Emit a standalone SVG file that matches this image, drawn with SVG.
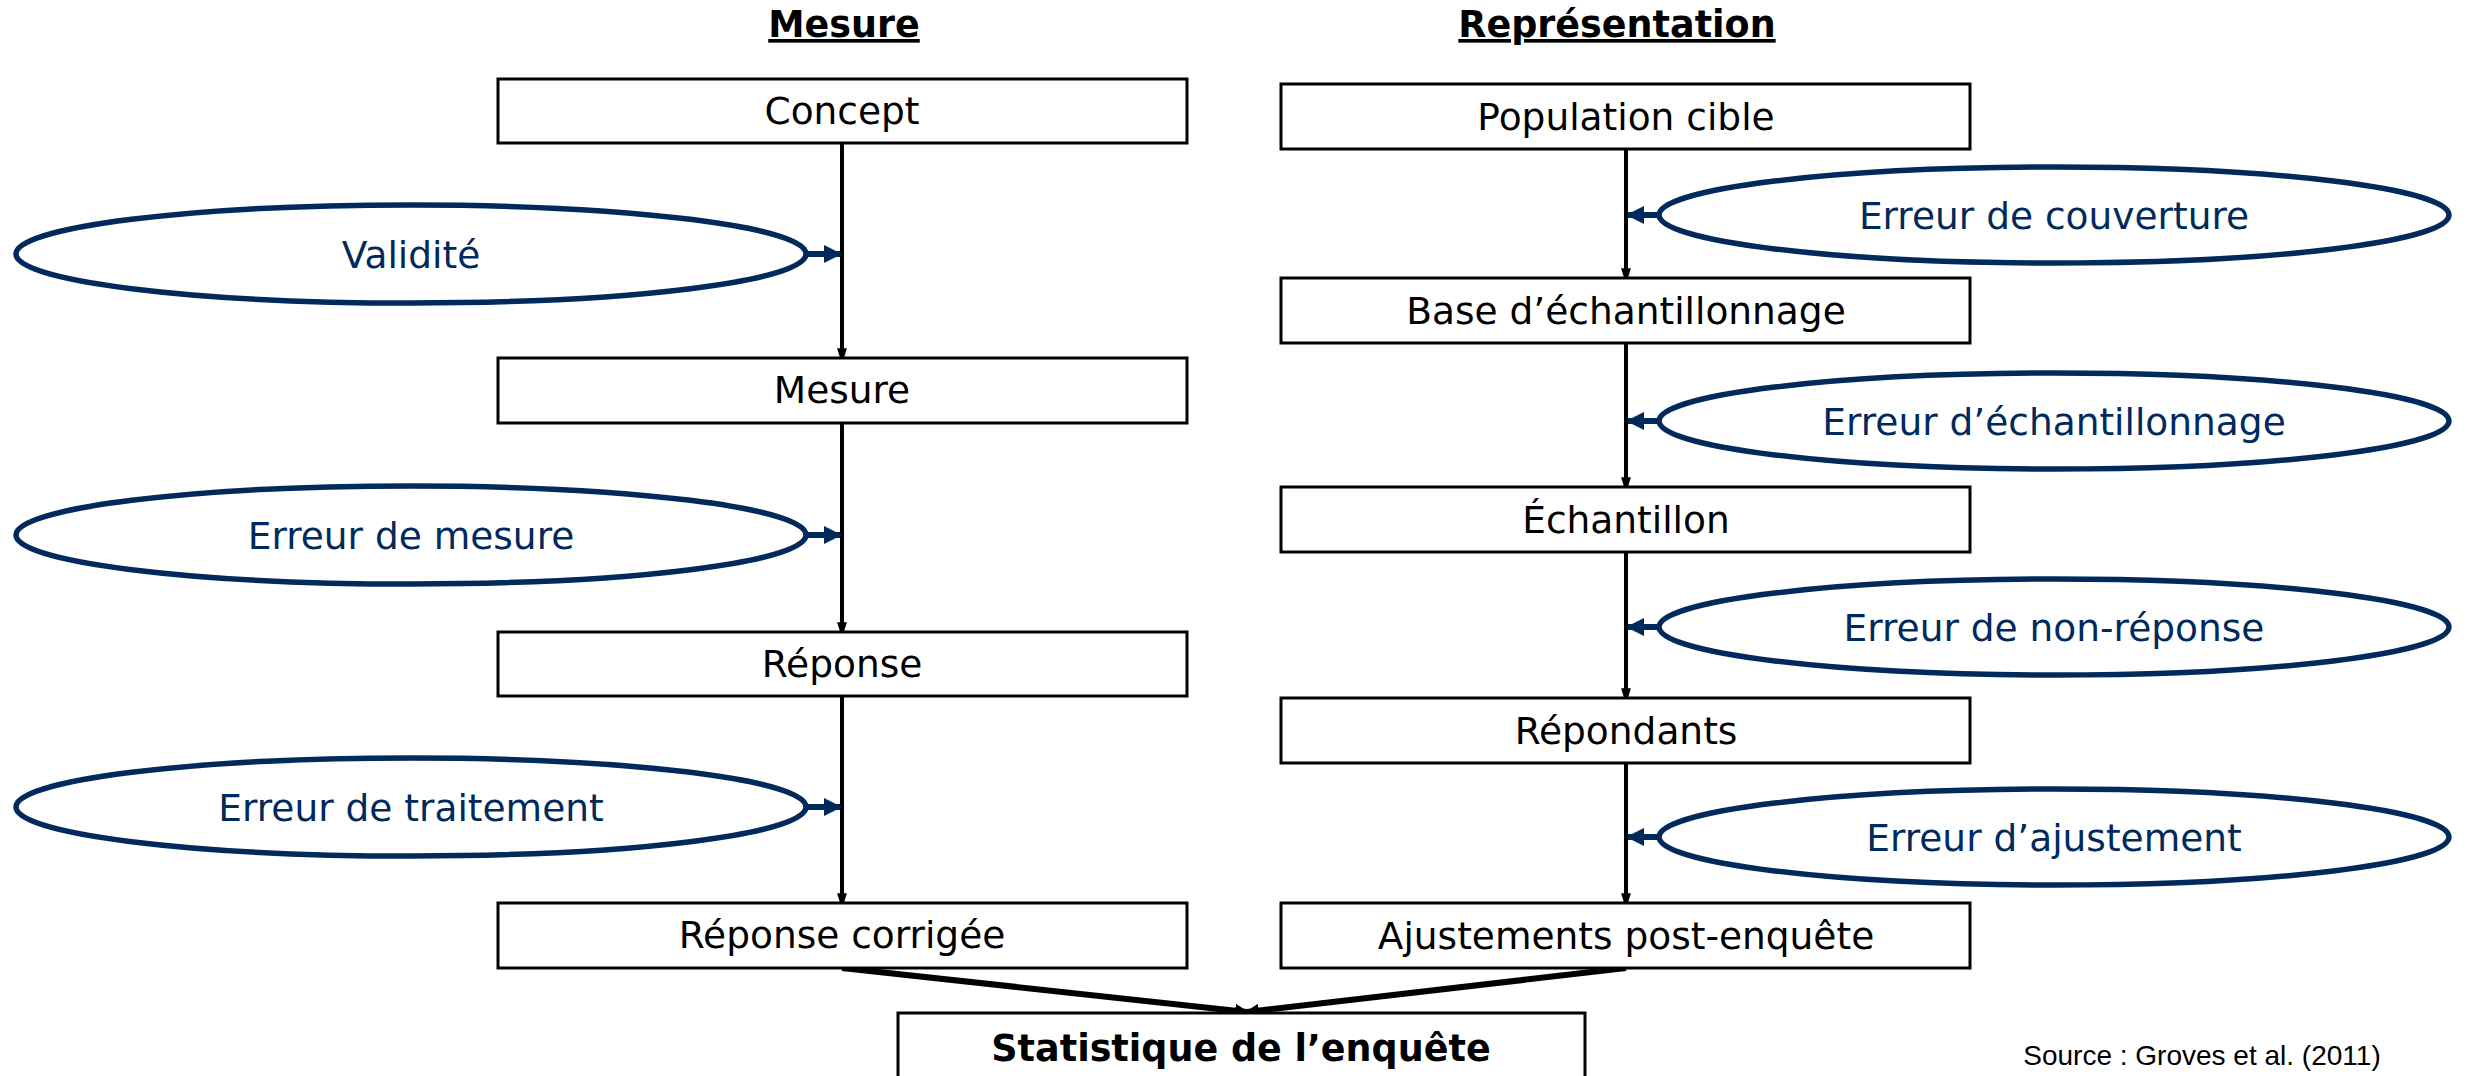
<svg xmlns="http://www.w3.org/2000/svg" width="2471" height="1076" viewBox="0 0 2471 1076">
<style>
text{font-family:"DejaVu Sans",Verdana,sans-serif;font-size:37.5px;text-anchor:middle}
.title{font-weight:bold;text-decoration:underline;font-size:36.5px}
.box{fill:#fff;stroke:#000;stroke-width:3}
.lbl{fill:#000}
.ell{fill:#fff;stroke:#002a5c;stroke-width:5.5}
.etxt{fill:#002a5c}
.flow{stroke:#000;stroke-width:4;fill:none}
.err{stroke:#002a5c;stroke-width:6;fill:none}
.merge{stroke:#000;stroke-width:6;fill:none}
.stat{font-weight:bold;font-size:36.5px}
.src{font-family:"Liberation Sans",Arial,sans-serif;font-size:28px}
</style>
<defs>
<marker id="ah" markerUnits="userSpaceOnUse" markerWidth="16" markerHeight="26" refX="16" refY="8" orient="auto" viewBox="0 0 26 16">
<path d="M0,0 L26,8 L0,16 z" fill="#000"/>
</marker>
<marker id="ahb" markerUnits="userSpaceOnUse" markerWidth="18" markerHeight="18" refX="16" refY="9" orient="auto" viewBox="0 0 18 18">
<path d="M0,0 L18,9 L0,18 z" fill="#002a5c"/>
</marker>
<marker id="ahm" markerUnits="userSpaceOnUse" markerWidth="14" markerHeight="14" refX="12" refY="7" orient="auto" viewBox="0 0 14 14">
<path d="M0,0 L14,7 L0,14 z" fill="#000"/>
</marker>
</defs>

<text class="title" x="844" y="37">Mesure</text>
<text class="title" x="1617" y="37">Représentation</text>

<g id="connectors">
<line class="flow" x1="842" y1="143" x2="842" y2="358" marker-end="url(#ah)"/>
<line class="flow" x1="842" y1="423" x2="842" y2="632" marker-end="url(#ah)"/>
<line class="flow" x1="842" y1="696" x2="842" y2="903" marker-end="url(#ah)"/>
<line class="flow" x1="1626" y1="149" x2="1626" y2="278" marker-end="url(#ah)"/>
<line class="flow" x1="1626" y1="343" x2="1626" y2="487" marker-end="url(#ah)"/>
<line class="flow" x1="1626" y1="552" x2="1626" y2="698" marker-end="url(#ah)"/>
<line class="flow" x1="1626" y1="763" x2="1626" y2="903" marker-end="url(#ah)"/>
<line class="err" x1="806" y1="254" x2="840" y2="254" marker-end="url(#ahb)"/>
<line class="err" x1="806" y1="535" x2="840" y2="535" marker-end="url(#ahb)"/>
<line class="err" x1="807" y1="807" x2="840" y2="807" marker-end="url(#ahb)"/>
<line class="err" x1="1659" y1="215" x2="1628" y2="215" marker-end="url(#ahb)"/>
<line class="err" x1="1659" y1="421" x2="1628" y2="421" marker-end="url(#ahb)"/>
<line class="err" x1="1659" y1="627" x2="1628" y2="627" marker-end="url(#ahb)"/>
<line class="err" x1="1659" y1="837" x2="1628" y2="837" marker-end="url(#ahb)"/>
<line class="merge" x1="842" y1="968" x2="1247" y2="1012" marker-end="url(#ahm)"/>
<line class="merge" x1="1626" y1="968" x2="1247" y2="1012" marker-end="url(#ahm)"/>
</g>

<g id="concept"><rect class="box" x="498" y="79" width="689" height="64"/><text class="lbl" x="842" y="124">Concept</text></g>
<g id="mesure"><rect class="box" x="498" y="358" width="689" height="65"/><text class="lbl" x="842" y="403">Mesure</text></g>
<g id="reponse"><rect class="box" x="498" y="632" width="689" height="64"/><text class="lbl" x="842" y="677">Réponse</text></g>
<g id="reponse-corrigee"><rect class="box" x="498" y="903" width="689" height="65"/><text class="lbl" x="842" y="948">Réponse corrigée</text></g>

<g id="population"><rect class="box" x="1281" y="84" width="689" height="65"/><text class="lbl" x="1626" y="130">Population cible</text></g>
<g id="base"><rect class="box" x="1281" y="278" width="689" height="65"/><text class="lbl" x="1626" y="324">Base d’échantillonnage</text></g>
<g id="echantillon"><rect class="box" x="1281" y="487" width="689" height="65"/><text class="lbl" x="1626" y="533">Échantillon</text></g>
<g id="repondants"><rect class="box" x="1281" y="698" width="689" height="65"/><text class="lbl" x="1626" y="744">Répondants</text></g>
<g id="ajustements"><rect class="box" x="1281" y="903" width="689" height="65"/><text class="lbl" x="1626" y="949">Ajustements post-enquête</text></g>

<g id="statistique"><rect class="box" x="898" y="1013" width="687" height="80"/><text class="lbl stat" x="1241" y="1061">Statistique de l’enquête</text></g>

<g id="validite"><ellipse class="ell" cx="411" cy="254" rx="395" ry="49"/><text class="etxt" x="411" y="268">Validité</text></g>
<g id="err-mesure"><ellipse class="ell" cx="411" cy="535" rx="395" ry="49"/><text class="etxt" x="411" y="549">Erreur de mesure</text></g>
<g id="err-traitement"><ellipse class="ell" cx="411" cy="807" rx="395" ry="49"/><text class="etxt" x="411" y="821">Erreur de traitement</text></g>

<g id="err-couverture"><ellipse class="ell" cx="2054" cy="215" rx="395" ry="48"/><text class="etxt" x="2054" y="229">Erreur de couverture</text></g>
<g id="err-echantillonnage"><ellipse class="ell" cx="2054" cy="421" rx="395" ry="48"/><text class="etxt" x="2054" y="435">Erreur d’échantillonnage</text></g>
<g id="err-nonreponse"><ellipse class="ell" cx="2054" cy="627" rx="395" ry="48"/><text class="etxt" x="2054" y="641">Erreur de non-réponse</text></g>
<g id="err-ajustement"><ellipse class="ell" cx="2054" cy="837" rx="395" ry="48"/><text class="etxt" x="2054" y="851">Erreur d’ajustement</text></g>

<text class="src" x="2202" y="1065">Source : Groves et al. (2011)</text>
</svg>
